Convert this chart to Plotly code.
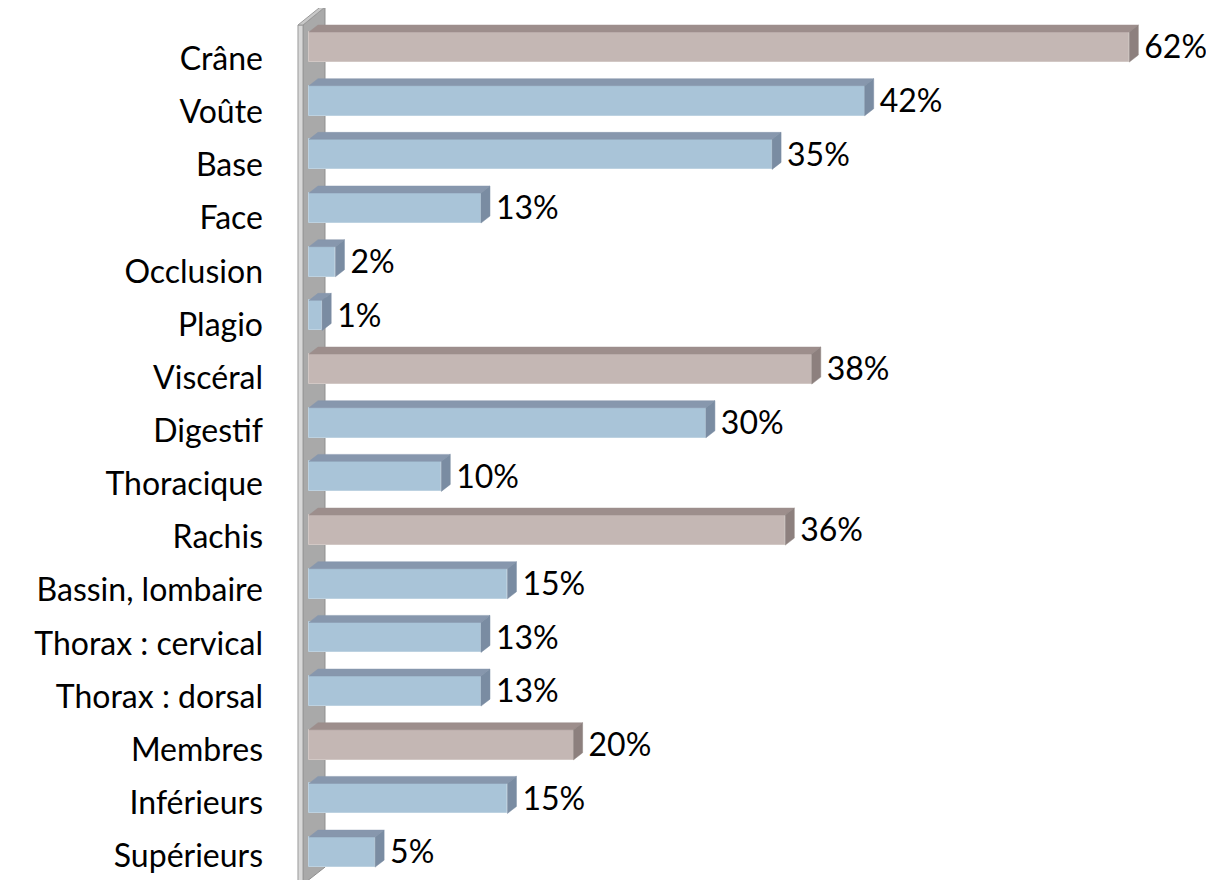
import plotly.graph_objects as go

categories = [
    "Crâne", "Voûte", "Base", "Face", "Occlusion", "Plagio",
    "Viscéral", "Digestif", "Thoracique",
    "Rachis", "Bassin, lombaire", "Thorax : cervical", "Thorax : dorsal",
    "Membres", "Inférieurs", "Supérieurs",
]
values = [62, 42, 35, 13, 2, 1, 38, 30, 10, 36, 15, 13, 13, 20, 15, 5]
is_group = [1, 0, 0, 0, 0, 0, 1, 0, 0, 1, 0, 0, 0, 1, 0, 0]

FONT = "Lato, 'Open Sans', sans-serif"
PINK = dict(front="#C4B7B4", top="#9D8E8C", side="#8D807E", edge="#D2C8C5")
BLUE = dict(front="#A9C4D8", top="#8797AD", side="#7A8CA2", edge="#BDD2E1")

bar_w = 0.56   # front face thickness (category units)
dx = 0.68      # depth offset in % units
dy = 0.13      # depth offset in category units

pos = list(range(len(categories)))

fig = go.Figure()

# wall on the left (behind bars)
fig.add_shape(type="path", layer="below", xref="x", yref="y",
              path="M -0.45,-0.41 L 1.21,-0.745 L 1.21,15.28 L -0.45,15.6 Z",
              fillcolor="#A9A9A9", line=dict(color="#8E8E8E", width=1))
fig.add_shape(type="path", layer="below", xref="x", yref="y",
              path="M -0.83,-0.41 L -0.45,-0.41 L -0.45,15.6 L -0.83,15.6 Z",
              fillcolor="#D8D8D8", line=dict(color="#9A9A9A", width=1))
fig.add_shape(type="path", layer="below", xref="x", yref="y",
              path="M -0.83,-0.41 L 0.85,-0.745 L 1.21,-0.745 L -0.45,-0.41 Z",
              fillcolor="#C8C8C8", line=dict(color="#9A9A9A", width=1))

for flag, col in ((1, PINK), (0, BLUE)):
    idx = [i for i in pos if is_group[i] == flag]
    # front faces
    fig.add_trace(go.Bar(
        y=[pos[i] for i in idx], x=[values[i] for i in idx], base=0,
        orientation="h", width=bar_w,
        marker=dict(color=col["front"], line=dict(color=col["edge"], width=1)),
        hoverinfo="skip", showlegend=False,
    ))
    # top and side faces
    tx, ty = [], []
    sx, sy = [], []
    for i in idx:
        v = values[i]
        t = pos[i] - bar_w / 2
        b = pos[i] + bar_w / 2
        tx += [0, v, v + dx, dx, 0, None]
        ty += [t, t, t - dy, t - dy, t, None]
        sx += [v, v + dx, v + dx, v, v, None]
        sy += [t, t - dy, b - dy, b, t, None]
    fig.add_trace(go.Scatter(x=tx, y=ty, fill="toself", mode="lines",
                             fillcolor=col["top"], line=dict(width=0.5, color=col["top"]),
                             hoverinfo="skip", showlegend=False))
    fig.add_trace(go.Scatter(x=sx, y=sy, fill="toself", mode="lines",
                             fillcolor=col["side"], line=dict(width=0.5, color=col["side"]),
                             hoverinfo="skip", showlegend=False))

# value labels
fig.add_trace(go.Scatter(
    x=[v + dx + 0.45 for v in values], y=[p + 0.06 for p in pos],
    mode="text", text=[f"{v}%" for v in values], textposition="middle right",
    textfont=dict(family=FONT, size=32, color="#000000"),
    hoverinfo="skip", showlegend=False, cliponaxis=False,
))

# page body adds an 8px margin, so the figure is 8px smaller than the window
fig.update_layout(
    width=1206, height=872,
    margin=dict(l=272, r=0, t=0, b=0),
    paper_bgcolor="white", plot_bgcolor="white",
    font=dict(family=FONT, color="#000000"),
    xaxis=dict(range=[-2.19, 68.4], visible=False, showgrid=False, zeroline=False),
    yaxis=dict(
        range=[15.52, -0.727],
        # category labels sit slightly below the bars (perspective), less so lower down
        tickvals=[p + 0.22 - 0.01 * p for p in pos], ticktext=categories,
        tickfont=dict(family=FONT, size=32, color="#000000"),
        showgrid=False, zeroline=False, showline=False,
        ticks="", ticklabelstandoff=16,
    ),
    bargap=0,
)

fig.write_html("out.html")
